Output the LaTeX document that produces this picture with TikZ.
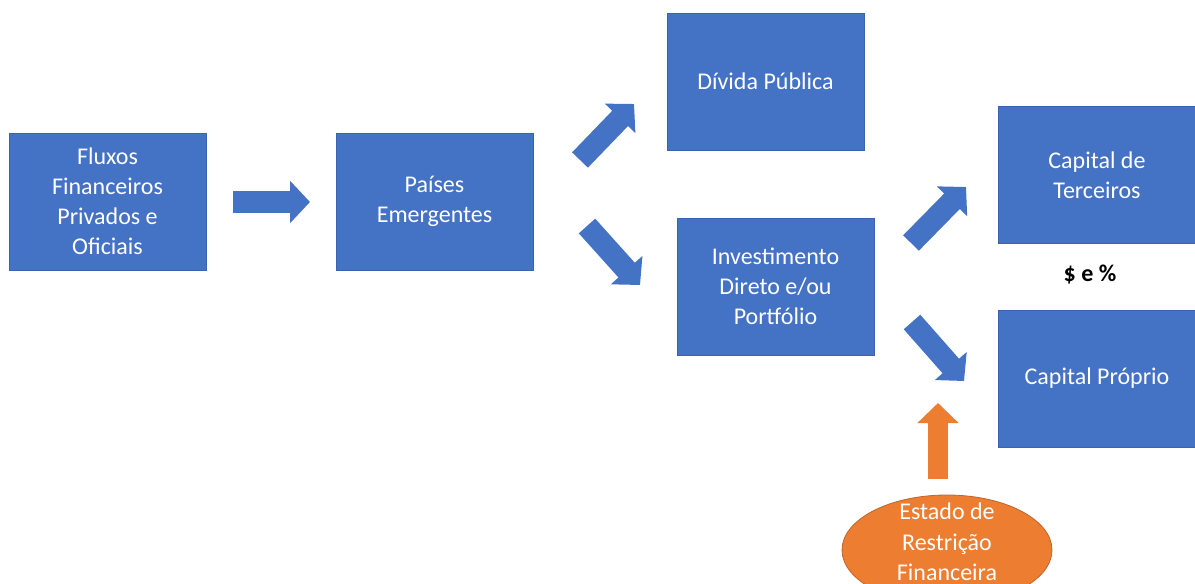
\documentclass[tikz,border=0pt]{standalone}
\usepackage{fontspec}
\setmainfont{Carlito}
\usetikzlibrary{arrows.meta,shapes.geometric}
\definecolor{boxblue}{HTML}{4472C4}
\definecolor{boxedge}{HTML}{3A64B0}
\definecolor{orng}{HTML}{ED7D31}
\definecolor{orngedge}{HTML}{C0642A}
\tikzset{
  box/.style={rectangle, fill=boxblue, draw=boxedge, line width=0.6pt,
    minimum width=147.75pt, minimum height=102.75pt, inner sep=0pt,
    text=white, align=center, font=\fontsize{18}{22.5}\selectfont},
  bluearrow/.style={draw=boxblue, line width=16.5pt,
    -{Triangle[width=31pt,length=15pt]}},
  orangearrow/.style={draw=orng, line width=15pt,
    -{Triangle[width=30pt,length=15pt]}},
  lbl/.style={align=center, font=\fontsize{18}{23}\selectfont, inner sep=0pt}
}
\begin{document}
\begin{tikzpicture}[x=0.75pt,y=-0.75pt]
\useasboundingbox (0,0) rectangle (1195,584);
\clip (0,0) rectangle (1195,584);
\node[box] (fluxos) at (107.5,201.5) {Fluxos\\Financeiros\\Privados e\\Oficiais};
\node[box] (paises) at (434.5,201.5) {Países\\Emergentes};
\node[box] (divida) at (765.5,81.5) {Dívida Pública};
\node[box] (invest) at (775.5,286.5) {Investimento\\Direto e/ou\\Portfólio};
\node[box] (terceiros) at (1097,175) {Capital de\\Terceiros};
\node[box] (proprio) at (1097,378.5) {Capital Próprio};
\node[font=\fontsize{18}{22}\selectfont\bfseries, inner sep=0pt] (taxa) at (1090,275) {\$ e \%};
\node[ellipse, fill=orng, draw=orngedge, line width=0.6pt, minimum width=157.5pt,
  minimum height=82.5pt, inner sep=0pt] (estado) at (947,550) {};
\node[lbl, text=white] (estadotxt) at (947,542) {Estado de\\Restrição\\Financeira};
% block arrows
\coordinate (a1s) at (233,202); \coordinate (a1e) at (310,202);
\coordinate (a2s) at (580,160); \coordinate (a2e) at (634,104);
\coordinate (a3s) at (587,226); \coordinate (a3e) at (640,285);
\coordinate (a4s) at (911,243); \coordinate (a4e) at (966,187);
\coordinate (a5s) at (912,322); \coordinate (a5e) at (964,381);
\coordinate (a6s) at (938,479); \coordinate (a6e) at (938,403);
\draw[bluearrow] (a1s) -- (a1e);
\draw[bluearrow] (a2s) -- (a2e);
\draw[bluearrow] (a3s) -- (a3e);
\draw[bluearrow] (a4s) -- (a4e);
\draw[bluearrow] (a5s) -- (a5e);
\draw[orangearrow] (a6s) -- (a6e);
\end{tikzpicture}
\end{document}
